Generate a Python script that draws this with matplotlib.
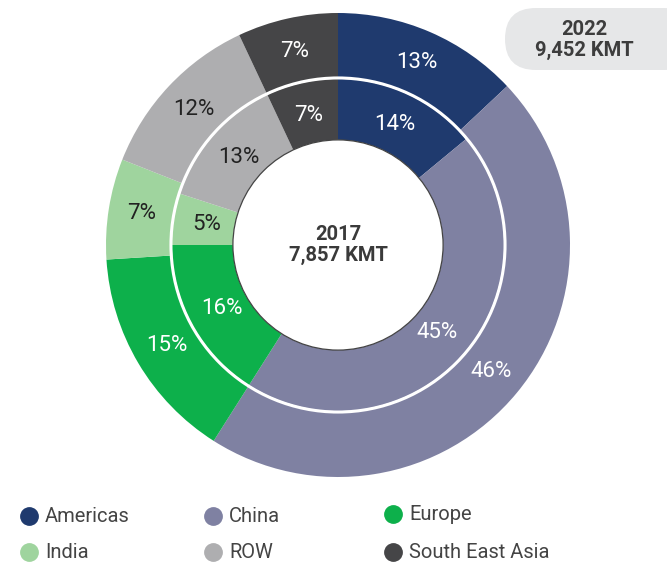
import matplotlib.pyplot as plt
import numpy as np
from matplotlib.lines import Line2D
from matplotlib.patches import Circle, FancyBboxPatch
from matplotlib.transforms import IdentityTransform

plt.rcParams['font.family'] = ['Roboto', 'DejaVu Sans']

regions = ["Americas", "China", "Europe", "India", "ROW", "South East Asia"]
share_2022 = [13, 46, 15, 7, 12, 7]
share_2017 = [14, 45, 16, 5, 13, 7]
total_2022 = "9,452 KMT"
total_2017 = "7,857 KMT"

colors = ["#1f3a6e", "#7f81a2", "#0db04b", "#9fd49e", "#aeaeb0", "#454547"]
label_colors = ["white", "white", "white", "#222222", "#222222", "white"]

W, H = 667, 562
fig = plt.figure(figsize=(W / 100, H / 100), dpi=100)

# donut axes: centre at (338, 245) px, outer radius 232 px
cx, cy, R = 338, 245, 232
ax = fig.add_axes([(cx - R) / W, (H - cy - R) / H, 2 * R / W, 2 * R / H])
ax.set_xlim(-1, 1)
ax.set_ylim(-1, 1)
ax.set_aspect("equal")
ax.axis("off")

r_outer, w_outer = 1.0, 0.28
r_inner, w_inner = 0.716, 0.263

ax.pie(share_2022, radius=r_outer, startangle=90, counterclock=False,
       colors=colors, wedgeprops=dict(width=w_outer, linewidth=0))
ax.pie(share_2017, radius=r_inner, startangle=90, counterclock=False,
       colors=colors, wedgeprops=dict(width=w_inner, linewidth=0))
ax.set_xlim(-1, 1)
ax.set_ylim(-1, 1)

# white ring between the two years, thin outline round the hole
ax.add_patch(Circle((0, 0), 0.72, facecolor="none", edgecolor="white", linewidth=2.2))
ax.add_patch(Circle((0, 0), r_inner - w_inner, facecolor="white",
                    edgecolor="#444444", linewidth=0.9))


def put_labels(values, radius):
    cum = np.cumsum([0] + values[:-1])
    for v, c0, tc in zip(values, cum, label_colors):
        ang = np.deg2rad(90 - 360 * (c0 + v / 2) / 100)
        ax.text(radius * np.cos(ang), radius * np.sin(ang), f"{v}%",
                ha="center", va="center", fontsize=16, color=tc)


put_labels(share_2022, 0.855)
put_labels(share_2017, 0.572)

ax.text(0, 0, f"2017\n{total_2017}", ha="center", va="center", fontsize=14.5,
        fontweight="bold", color="#3a3a3a", linespacing=1.15)

# 2022 badge, top right
badge = FancyBboxPatch((505, H - 70), 190, 62,
                       boxstyle="round,pad=0,rounding_size=31",
                       transform=IdentityTransform(), facecolor="#e6e7e8",
                       edgecolor="none")
fig.patches.append(badge)
fig.text(584 / W, 1 - 40 / H, f"2022\n{total_2022}", ha="center", va="center",
         fontsize=14.5, fontweight="bold", color="#3d3d3d", linespacing=1.15)

# legend, two rows of three
col_x = [29, 213, 393]
row_y = [516, 552]
for i, (name, col) in enumerate(zip(regions, colors)):
    x = col_x[i % 3]
    y = row_y[i // 3] - (2 if i == 2 else 0)
    fig.add_artist(Line2D([x / W], [1 - y / H], marker="o", markersize=12.5,
                          color=col, linestyle="none", transform=fig.transFigure))
    fig.text((x + 16) / W, 1 - y / H, name, ha="left", va="center",
             fontsize=14.5, color="#444444")

fig.savefig("out.png", dpi=100)
